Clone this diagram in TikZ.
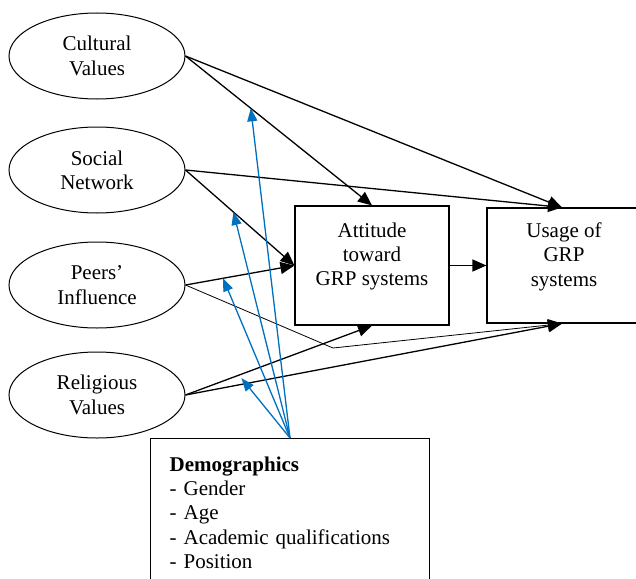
\documentclass[tikz,border=0pt]{standalone}
\usepackage{fontspec}
\setmainfont{Liberation Serif}
\usetikzlibrary{positioning, shapes.geometric, arrows.meta, calc}

\begin{document}
\begin{tikzpicture}[
    x=1pt, y=-1pt,
    font=\fontsize{21}{24.3}\selectfont,
    % --- STYLES ---
    factor/.style={ellipse, draw, line width=1pt, minimum width=176pt, minimum height=86pt, align=center, inner sep=0pt},
    construct/.style={rectangle, draw, line width=1.2pt, minimum width=154pt, align=center},
    demo/.style={rectangle, draw, line width=1.2pt, anchor=north west, align=left, text width=241pt, inner xsep=19pt, inner ysep=18pt},
    link/.style={-{Triangle[length=14pt, width=12pt]}, line width=1.3pt},
    thinlink/.style={-{Triangle[length=14pt, width=12pt]}, line width=0.8pt},
    moder/.style={-{Triangle[length=13pt, width=10pt]}, line width=1.3pt, draw=modblue, fill=modblue}
]
\definecolor{modblue}{RGB}{0,112,192}
\useasboundingbox (0,0) rectangle (636,578);

% --- 1. ANTECEDENTS ---
\node (cult) [factor] at (97,56) {Cultural\\Values};
\node (soc) [factor] at (97,170) {Social\\Network};
\node (peer) [factor] at (97,285) {Peers'\\Influence};
\node (relig) [factor] at (97,395) {Religious\\Values};

% --- 2. ATTITUDE AND USAGE ---
\node (att) [construct, minimum height=119pt] at (372,265.5) {Attitude\\toward\\GRP systems\\[-2pt]~};
\node (use) [construct, minimum height=115pt] at (564,265.5) {Usage of\\GRP\\systems\\[-2pt]~};

% --- 3. MODERATOR ---
\node (demog) [demo] at (150,438) {\textbf{Demographics}\\- Gender\\- Age\\- Academic qualifications\\- Position\\~};

% --- FLOWS ---
\draw [link] (cult.east) -- (att.north);
\draw [link] (cult.east) -- ([xshift=-2pt]use.north);
\draw [link] (soc.east) -- ([xshift=-2pt]use.north);
\draw [link] (soc.east) -- (att.west);
\draw [link] (peer.east) -- (att.west);
\draw [thinlink] (peer.east) -- (333,348) -- ([xshift=-2pt]use.south);
\draw [link] (relig.east) -- (att.south);
\draw [link] (relig.east) -- ([xshift=-2pt]use.south);
\draw [link] (att.east) -- (use.west);

% points where demographics act on the paths
\coordinate (m1) at ($(cult.east)!0.35!(att.north)$);
\coordinate (m2) at ($(soc.east)!0.44!(att.west)$);
\coordinate (m3) at ($(peer.east)!0.345!(att.west)$);
\coordinate (m4) at ($(relig.east)!0.3!(att.south)+(0,4)$);
\coordinate (src) at (290,438);

% moderating effects
\foreach \m in {m1,m2,m3,m4}
    \draw [moder] (src) -- (\m);

\end{tikzpicture}
\end{document}
